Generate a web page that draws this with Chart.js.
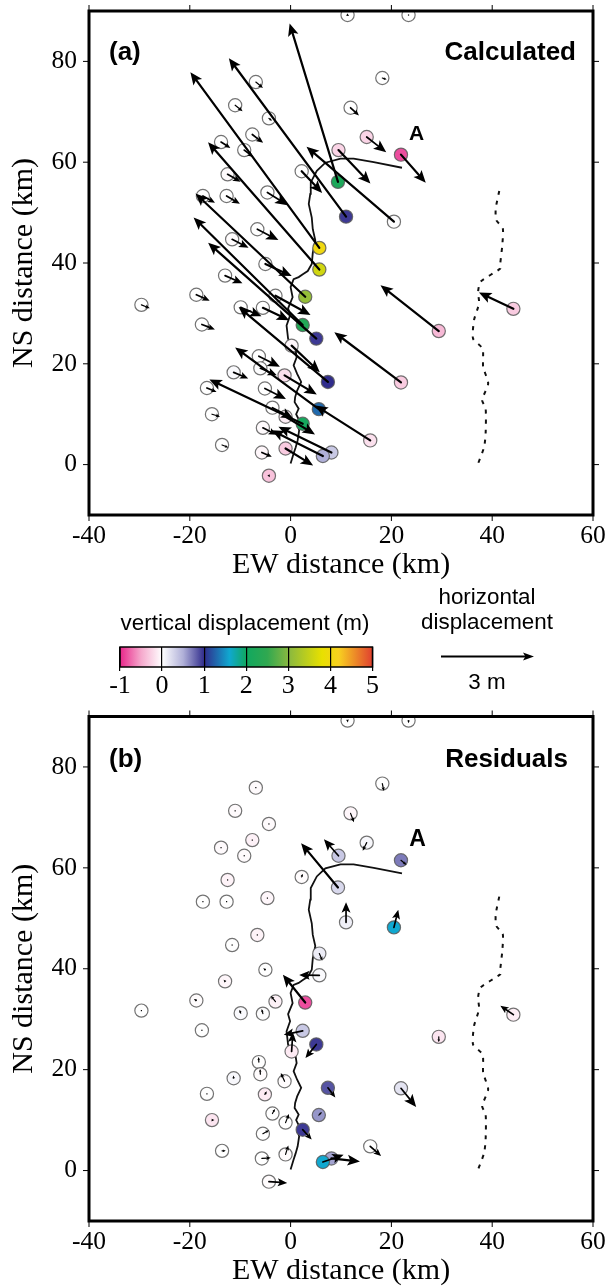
<!DOCTYPE html>
<html><head><meta charset="utf-8">
<style>
html,body{margin:0;padding:0;background:#fff;width:607px;height:1286px;overflow:hidden}
canvas{position:absolute;left:0;display:block}
</style>
<script src="https://cdn.jsdelivr.net/npm/chart.js@4/dist/chart.umd.min.js"></script>
</head><body>
<canvas id="panelA" width="607" height="580" style="top:0"></canvas>
<canvas id="scaleBar" width="607" height="125" style="top:580px"></canvas>
<canvas id="panelB" width="607" height="581" style="top:705px"></canvas>
<script>
const xTicks=[-40,-20,0,20,40,60];
const yTicks=[0,20,40,60,80];
const colorTicks=[-1,0,1,2,3,4,5];
const stationEW=[11.3,23.4,18.2,-6.9,-11.0,11.9,-4.3,-7.6,15.1,-13.8,-9.2,9.5,21.9,2.2,-12.5,9.4,-4.6,-17.4,-12.7,11.0,20.5,-6.6,-11.6,5.7,-5.0,5.7,-13.0,2.9,-3.0,-18.7,-29.6,-9.9,-5.5,-17.6,2.4,5.1,0.2,-6.3,-6.0,-1.2,7.4,-11.3,-16.6,-5.1,21.9,-3.6,5.6,-15.6,-1.0,2.4,-5.5,15.8,-13.6,-1.0,-5.7,8.1,6.4,-4.3,29.4,44.2];
const stationNS=[89.2,89.2,76.7,75.9,71.3,70.8,68.7,65.5,65.0,64.0,62.4,62.4,61.5,58.2,57.6,56.1,54.0,53.3,53.3,49.2,48.2,46.7,44.7,43.0,39.8,38.7,37.5,33.3,33.5,33.7,31.7,31.2,31.1,27.8,27.7,25.0,23.6,21.5,19.1,17.7,16.4,18.3,15.2,15.1,16.3,11.3,11.0,10.0,9.5,8.1,7.3,4.8,3.9,3.2,2.4,2.4,1.7,-2.2,26.5,30.9];
const verticalCalc=[0,0,0,0,0,0,0,0,-.25,0,0,-.25,-.85,0,-.03,2.2,0,0,0,.95,.02,0,-.02,4.0,0,3.6,0,3.1,0,0,0,0,0,0,2.3,.95,-.05,0,.02,-.18,1.0,.03,0,0,-.3,0,1.3,0,-.1,2.1,-.03,-.18,0,-.3,-.05,.35,.5,-.35,-.4,-.3];
const eastCalc=[.05,.03,.14,.23,.24,.27,.10,.35,.63,.30,.29,1.03,.80,.66,.42,-1.56,.65,.39,.43,-3.78,-2.82,.68,.53,-4.16,.85,-3.59,.56,-3.54,1.13,.43,.27,.67,.85,.42,-3.52,-3.49,.91,.68,.53,1.04,-2.88,.47,.31,.68,-2.15,.67,-2.70,.26,.95,-3.01,.44,-1.77,.20,.89,.32,-1.71,-1.65,.03,-1.88,-1.11];
const northCalc=[-.03,-.02,-.05,-.19,-.19,-.25,-.08,-.27,-.49,-.19,-.22,-1.08,-.91,-.70,-.24,5.11,-.41,-.22,-.25,5.11,2.42,-.35,-.27,5.67,-.39,4.11,-.25,3.33,-.62,-.19,-.11,-.29,-.40,-.16,3.47,3.09,-.86,-.34,-.22,-.62,2.42,-.20,-.13,-.34,1.62,-.35,1.99,-.08,-.57,1.43,-.22,1.13,-.08,-.55,-.14,.83,.83,-.05,1.48,.53];
const verticalRes=[0,0,0,-.03,-.03,-.05,-.03,-.08,.05,-.03,-.03,.35,.7,-.02,-.07,.25,-.05,0,0,.1,1.6,-.07,0,.12,0,.03,-.05,-.85,-.08,-.02,0,.03,.02,0,.35,.95,-.12,0,-.02,-.02,.85,.05,0,-.12,.18,0,.6,-.15,0,.95,0,0,0,-.03,0,.55,1.6,-.02,-.15,-.1];
const eastRes=[.01,0,.05,0,0,.11,0,0,-.13,0,0,-.47,.18,.03,0,-1.19,0,0,0,0,.14,0,0,.10,-.07,-.65,-.05,-.72,-.15,-.08,0,-.04,-.04,0,-.61,-.35,.04,-.01,-.01,-.12,.24,-.01,0,.06,.49,.08,.10,.08,.11,.29,.20,.35,.12,.09,.29,.92,.67,.59,0,-.42];
const northRes=[-.06,-.09,-.24,0,0,-.29,0,0,-.26,0,0,.53,-.15,.10,0,1.43,0,0,0,.65,.57,0,0,-.22,.05,.01,.05,.90,.18,.05,0,.11,.15,0,-.13,-.44,.62,.16,.17,.27,-.31,.09,0,.10,-.60,.15,.10,0,.28,-.32,.11,-.31,0,.29,.02,-.10,.23,-.04,-.17,.29];
const faultEW=[0,.6,1.0,1.4,1.7,1.4,1.7,1.1,1.6,.8,.9,1.3,2.1,1.3,.6,1.2,.9,-.2,-.5,-.8,-.1,-.5,.4,0,.6,1.6,2.5,3.4,4.2,4.4,4.9,4.4,4.2,3.6,3.9,4.0,5.2,6.9,9.9,12.5,16.5,22.1];
const faultNS=[.2,2.2,3.4,4.8,6.8,7.8,8.8,10,11.1,12.4,13.4,14.7,16.4,18,19.7,21.3,23.3,24.2,25,27.6,29.6,31,33.2,35.2,36.8,37.2,37.8,38.4,39.8,42,44.5,46.7,49,51.7,53.7,56,58.3,59.9,60.7,60.7,60,58.9];
const dashEW=[41.4,40.7,40.8,42.1,42.0,41.6,41.6,37.7,37.2,37.4,36.4,36.2,38.1,38.2,39.2,38.0,38.7,38.7,38.4,37.2];
const dashNS=[54.3,50.8,48.5,46.9,43.5,39.9,38.9,36.3,34.3,32,28.7,25,23,19.4,16.1,12.8,11.1,6.2,3.5,.2];
const colorStops=[-1,-.5,0,.5,1,1.6,2,2.5,3,3.8,4.2,5];
const stopColors=[[232,38,138],[245,168,204],[255,255,255],[176,176,216],[48,44,140],[16,168,208],[16,168,96],[48,168,80],[136,184,64],[232,224,0],[248,208,32],[224,64,48]];
const kmPerMetre=6.15;
const legendArrowMetres=3;

const serif='"Liberation Serif"', sans='"Liberation Sans"';
function colorOf(v){
  if(v<=colorStops[0])return 'rgb('+stopColors[0]+')';
  for(let i=1;i<colorStops.length;i++){
    if(v<=colorStops[i]){
      const t=(v-colorStops[i-1])/(colorStops[i]-colorStops[i-1]);
      const c=stopColors[i-1].map((a,k)=>Math.round(a+(stopColors[i][k]-a)*t));
      return 'rgb('+c+')';
    }
  }
  return 'rgb('+stopColors[stopColors.length-1]+')';
}
function head(ctx,x0,y0,x1,y1,hl,hw){
  const a=Math.atan2(y1-y0,x1-x0),c=Math.cos(a),s=Math.sin(a);
  ctx.beginPath();ctx.moveTo(x1,y1);
  ctx.lineTo(x1-hl*c+hw*s,y1-hl*s-hw*c);
  ctx.lineTo(x1-hl*.78*c,y1-hl*.78*s);
  ctx.lineTo(x1-hl*c-hw*s,y1-hl*s+hw*c);
  ctx.closePath();ctx.fill();
}
function arrow(ctx,x0,y0,x1,y1){
  const len=Math.hypot(x1-x0,y1-y0);
  ctx.strokeStyle='#000';ctx.fillStyle='#000';ctx.lineCap='round';
  if(len<1.5){ctx.fillRect(x0-.6,y0-.6,1.2,1.2);return;}
  const hl=Math.min(12.5,Math.max(3,len*.52)),hw=hl*.43;
  const a=Math.atan2(y1-y0,x1-x0);
  ctx.lineWidth=len>25?2.2:(len>10?1.7:1.2);
  ctx.beginPath();ctx.moveTo(x0,y0);ctx.lineTo(x1-hl*.7*Math.cos(a),y1-hl*.7*Math.sin(a));ctx.stroke();
  head(ctx,x0,y0,x1,y1,hl,hw);
}
function panel(id,vertical,east,north,labels){
  const arrows={id:'arrows',afterDatasetsDraw(ch){
    const {x,y}=ch.scales,ctx=ch.ctx,ca=ch.chartArea;
    ctx.save();
    ctx.beginPath();ctx.rect(ca.left,ca.top,ca.right-ca.left,ca.bottom-ca.top);ctx.clip();
    stationEW.forEach((e,i)=>{
      arrow(ctx,x.getPixelForValue(e),y.getPixelForValue(stationNS[i]),
        x.getPixelForValue(e+east[i]*kmPerMetre),y.getPixelForValue(stationNS[i]+north[i]*kmPerMetre));
    });
    ctx.restore();
    ctx.save();ctx.strokeStyle='#000';
    ctx.lineWidth=3;ctx.strokeRect(ca.left,ca.top,ca.right-ca.left,ca.bottom-ca.top);
    ctx.lineWidth=1;ctx.beginPath();
    xTicks.forEach(v=>{const p=x.getPixelForValue(v);
      ctx.moveTo(p,ca.top);ctx.lineTo(p,ca.top-6);ctx.moveTo(p,ca.bottom);ctx.lineTo(p,ca.bottom+6);});
    yTicks.forEach(v=>{const p=y.getPixelForValue(v);
      ctx.moveTo(ca.left,p);ctx.lineTo(ca.left-6,p);ctx.moveTo(ca.right,p);ctx.lineTo(ca.right+6,p);});
    ctx.stroke();
    ctx.fillStyle='#000';ctx.textBaseline='middle';
    ctx.font='bold 26px '+sans;ctx.textAlign='left';ctx.fillText(labels.tag,109,labels.tagY);
    ctx.textAlign='right';ctx.fillText(labels.title,labels.titleRight,labels.tagY);
    ctx.font='bold '+labels.aSize+'px '+sans;ctx.textAlign='center';
    ctx.fillText('A',x.getPixelForValue(labels.aEW),y.getPixelForValue(labels.aNS));
    ctx.restore();
  }};
  return new Chart(document.getElementById(id),{
    type:'scatter',
    data:{datasets:[
      {type:'line',label:'Fault trace',data:faultEW.map((e,i)=>({x:e,y:faultNS[i]})),borderColor:'#111',borderWidth:1.8,pointRadius:0,tension:0,fill:false,order:3},
      {type:'line',label:'Eastern fault',data:dashEW.map((e,i)=>({x:e,y:dashNS[i]})),borderColor:'#111',borderWidth:2,borderDash:[4,6],pointRadius:0,tension:.2,fill:false,order:3},
      {label:'Stations',data:stationEW.map((e,i)=>({x:e,y:stationNS[i]})),
       pointRadius:6.6,pointBorderWidth:1.2,pointBorderColor:'rgba(90,90,90,.85)',
       pointBackgroundColor:vertical.map(colorOf),order:2}
    ]},
    options:{responsive:false,animation:false,
      layout:{padding:{top:labels.padTop,right:14,left:0,bottom:0}},
      plugins:{legend:{display:false},tooltip:{enabled:false}},
      scales:{
        x:{type:'linear',min:-40,max:60,grid:{display:false,drawTicks:false},border:{display:false},
          afterBuildTicks:s=>{s.ticks=xTicks.map(v=>({value:v}));},
          afterFit:s=>{s.height=65;s.paddingLeft=0;s.paddingRight=0;},
          ticks:{color:'#000',font:{family:serif,size:25.5,lineHeight:1.2},padding:labels.tickGap,maxRotation:0,autoSkip:false,callback:v=>String(v)},
          title:{display:true,text:'EW distance (km)',color:'#000',font:{family:serif,size:30,lineHeight:1},padding:{top:0,bottom:0}}},
        y:{type:'linear',min:-10,max:90,grid:{display:false,drawTicks:false},border:{display:false},
          afterBuildTicks:s=>{s.ticks=yTicks.map(v=>({value:v}));},
          afterFit:s=>{s.width=89;s.paddingTop=0;s.paddingBottom=0;},
          ticks:{color:'#000',font:{family:serif,size:25.5,lineHeight:1.2},padding:12,autoSkip:false,callback:v=>String(v)},
          title:{display:true,text:'NS distance (km)',color:'#000',font:{family:serif,size:30,lineHeight:1},padding:{top:9,bottom:0}}}
      }
    },
    plugins:[arrows]
  });
}
panel('panelA',verticalCalc,eastCalc,northCalc,{tag:'(a)',title:'Calculated',titleRight:576,tagY:53,aEW:25,aNS:65.6,aSize:21,padTop:11,tickGap:6});
panel('panelB',verticalRes,eastRes,northRes,{tag:'(b)',title:'Residuals',titleRight:568,tagY:55,aEW:25.2,aNS:65.5,aSize:23,padTop:11.5,tickGap:6});

new Chart(document.getElementById('scaleBar'),{
  type:'bar',
  data:{labels:['vertical displacement'],datasets:[{
    data:[[colorStops[0],colorStops[colorStops.length-1]]],
    barPercentage:1,categoryPercentage:1,borderWidth:0,
    backgroundColor(c){
      const ch=c.chart;if(!ch.chartArea)return '#888';
      const a=ch.scales.x.getPixelForValue(-1),b=ch.scales.x.getPixelForValue(5);
      const g=ch.ctx.createLinearGradient(a,0,b,0);
      colorStops.forEach((v,i)=>g.addColorStop((v+1)/6,'rgb('+stopColors[i]+')'));
      return g;
    }}]},
  options:{indexAxis:'y',responsive:false,animation:false,
    layout:{padding:{top:67,right:234.5,left:0,bottom:0}},
    plugins:{legend:{display:false},tooltip:{enabled:false}},
    scales:{
      x:{type:'linear',min:-1,max:5,
        afterBuildTicks:s=>{s.ticks=colorTicks.map(v=>({value:v}));},
        afterFit:s=>{s.height=38;s.paddingLeft=0;s.paddingRight=0;},
        grid:{z:1,color:'#000',lineWidth:1.2,tickLength:4,drawTicks:true},border:{display:false},
        ticks:{color:'#000',font:{family:serif,size:26,lineHeight:1.2},padding:0,maxRotation:0,autoSkip:false,callback:v=>String(v)}},
      y:{type:'category',display:true,afterFit:s=>{s.width=120;s.paddingTop=0;s.paddingBottom=0;},grid:{display:false},border:{display:false},ticks:{display:false}}
    }
  },
  plugins:[{id:'legendText',afterDatasetsDraw(ch){
    const ctx=ch.ctx,ca=ch.chartArea;
    ctx.save();
    ctx.strokeStyle='#000';ctx.lineWidth=1.5;ctx.strokeRect(ca.left,ca.top,ca.right-ca.left,ca.bottom-ca.top);
    ctx.fillStyle='#000';ctx.textAlign='center';ctx.textBaseline='middle';
    ctx.font='22.4px '+sans;
    ctx.fillText('vertical displacement (m)',245,44);
    ctx.fillText('horizontal',487,18);
    ctx.fillText('displacement',487,43);
    ctx.fillText('3 m',487,103);
    const len=legendArrowMetres*kmPerMetre*5.04;
    ctx.lineWidth=2;ctx.beginPath();ctx.moveTo(441,76.5);ctx.lineTo(441+len-6,76.5);ctx.stroke();
    head(ctx,441,76.5,441+len,76.5,11,4);
    ctx.restore();
  }}]
});
</script>
</body></html>
